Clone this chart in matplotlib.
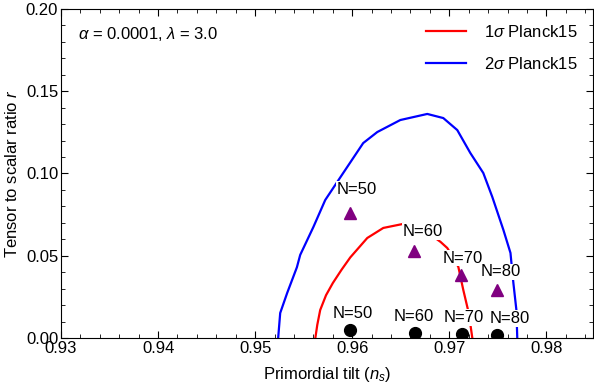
import matplotlib
matplotlib.use("Agg")
import matplotlib.pyplot as plt
from matplotlib.ticker import MultipleLocator

plt.rcParams['font.family'] = ['Liberation Sans', 'DejaVu Sans']
plt.rcParams['mathtext.fontset'] = 'custom'
plt.rcParams['mathtext.rm'] = 'Liberation Sans'
plt.rcParams['mathtext.it'] = 'Liberation Sans:italic'

# Planck15 contours
red_ns = [0.9562, 0.9564, 0.9567, 0.9573, 0.9580, 0.9589, 0.9598, 0.96155, 0.9632, 0.9652,
          0.9665, 0.9678, 0.9691, 0.96979, 0.9704, 0.97093, 0.97144, 0.9720, 0.97237]
red_r = [0.0, 0.008, 0.017, 0.026, 0.0334, 0.0415, 0.049, 0.0608, 0.0669, 0.0693,
         0.0685, 0.064, 0.0584, 0.0547, 0.049, 0.0432, 0.0292, 0.0152, 0.0]

blue_ns = [0.95237, 0.95258, 0.9533, 0.9543, 0.95464, 0.9560, 0.95722, 0.95907, 0.96113,
           0.96258, 0.96495, 0.96773, 0.96938, 0.97082, 0.97216, 0.9735, 0.97443, 0.97557,
           0.9763, 0.9766, 0.97691, 0.9770]
blue_r = [0.0, 0.0152, 0.0274, 0.043, 0.0505, 0.0675, 0.0839, 0.1003, 0.1185,
          0.1252, 0.1325, 0.1362, 0.1337, 0.1264, 0.1125, 0.1003, 0.0857, 0.0657,
          0.0517, 0.0334, 0.017, 0.0]

# model predictions for N = 50, 60, 70, 80
efolds = [50, 60, 70, 80]
tri_ns = [0.9598, 0.9664, 0.9712, 0.9749]
tri_r = [0.076, 0.0529, 0.0383, 0.0292]
dot_ns = [0.9598, 0.9665, 0.9713, 0.9749]
dot_r = [0.0049, 0.0030, 0.0024, 0.0018]

tri_offsets = [(5, 17), (6, 14), (1, 12), (3, 13)]
dot_offsets = [(2, 12), (-1, 12), (1, 12), (9, 12)]

fs = 12

fig = plt.figure(figsize=(5.94, 3.88), dpi=100)
ax = fig.add_axes([0.1027, 0.1289, 0.8956, 0.8479])

ax.plot(red_ns, red_r, color="#ff0000", lw=1.6, label=r"1$\sigma$ Planck15", zorder=2)
ax.plot(blue_ns, blue_r, color="#0000ff", lw=1.6, label=r"2$\sigma$ Planck15", zorder=2)

ax.plot(tri_ns, tri_r, "^", color="#800080", ms=9, ls="none", zorder=4)
ax.plot(dot_ns, dot_r, "o", color="black", ms=8.5, ls="none", zorder=4)

for n, x, y, off in zip(efolds, tri_ns, tri_r, tri_offsets):
    ax.annotate(f"N={n}", (x, y), xytext=off, textcoords="offset points",
                ha="center", va="center", fontsize=fs, zorder=3,
                bbox=dict(facecolor="white", edgecolor="none", pad=0.5))
for n, x, y, off in zip(efolds, dot_ns, dot_r, dot_offsets):
    ax.annotate(f"N={n}", (x, y), xytext=off, textcoords="offset points",
                ha="center", va="center", fontsize=fs, zorder=3,
                bbox=dict(facecolor="white", edgecolor="none", pad=0.5))

ax.text(0.032, 0.924, r"$\alpha$ = 0.0001, $\lambda$ = 3.0", transform=ax.transAxes,
        fontsize=fs, va="center", ha="left")

ax.set_xlim(0.93, 0.9848)
ax.set_ylim(0.0, 0.2)
ax.xaxis.set_major_locator(MultipleLocator(0.01))
ax.xaxis.set_minor_locator(MultipleLocator(0.002))
ax.yaxis.set_major_locator(MultipleLocator(0.05))
ax.yaxis.set_minor_locator(MultipleLocator(0.01))
ax.xaxis.set_major_formatter(plt.FuncFormatter(lambda v, p: f"{v:.2f}"))
ax.yaxis.set_major_formatter(plt.FuncFormatter(lambda v, p: f"{v:.2f}"))
ax.tick_params(which="both", direction="in", top=True, right=True, labelsize=fs, pad=2)
ax.tick_params(which="major", length=5)
ax.tick_params(which="minor", length=3)

ax.set_xlabel(r"Primordial tilt ($n_s$)", fontsize=fs, labelpad=7)
ax.set_ylabel(r"Tensor to scalar ratio $r$", fontsize=fs, labelpad=4)

ax.legend(loc="upper right", frameon=False, fontsize=fs, handlelength=2.4,
          labelspacing=0.95, handletextpad=1.1, borderaxespad=0.5)

fig.savefig("out.png", dpi=100)
